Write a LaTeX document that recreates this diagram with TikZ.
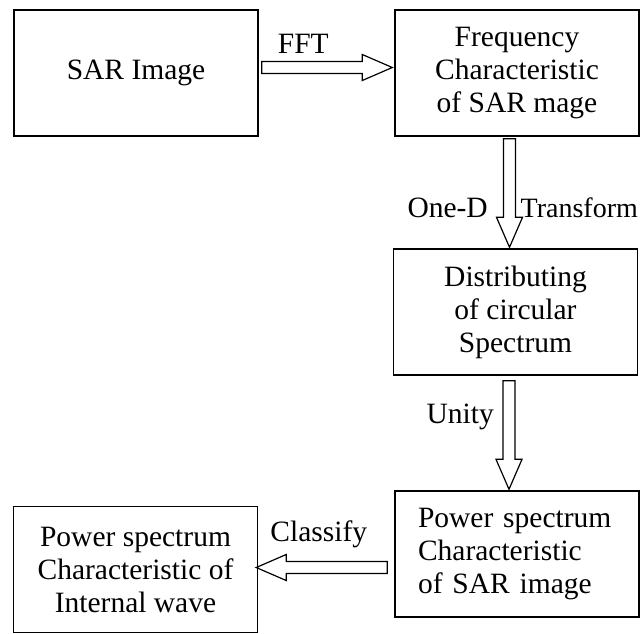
\documentclass[tikz,border=0pt]{standalone}
\usepackage{fontspec}
\setmainfont{Liberation Serif}
\usetikzlibrary{calc}

\tikzset{
  procbox/.style={draw=black, line width=1.4pt, minimum width=244pt, minimum height=126pt,
    align=center, font=\fontsize{29.5}{33}\selectfont},
  flowlbl/.style={inner sep=0pt, font=\fontsize{29.5}{33}\selectfont},
  arrowline/.style={draw=black, line width=1.2pt, line join=miter},
}

% hollow block arrow from #1 to the tip #2
\newcommand{\hollowarrow}[2]{%
  \draw[arrowline] let \p1=($(#2)-(#1)$), \n1={veclen(\x1,\y1)}, \n2={atan2(\y1,\x1)} in
    [shift={(#1)}, rotate=\n2]
    (0pt,-6pt) -- ({\n1-30pt},-6pt) -- ({\n1-30pt},-13pt) -- (\n1,0pt)
    -- ({\n1-30pt},13pt) -- ({\n1-30pt},6pt) -- (0pt,6pt) -- cycle;
}

\begin{document}
\begin{tikzpicture}[x=1pt, y=1pt]
    \useasboundingbox (0,0) rectangle (643,-633);

    \node[procbox] (sar) at (136, -73) {SAR Image};
    \node[procbox] (freq) at (517, -73) {Frequency\\Characteristic\\of SAR mage};
    \node[procbox] (dist) at (515.5, -312) {Distributing\\of circular\\Spectrum};
    \node[procbox, align=left, text width=198pt, inner xsep=23pt] (psar) at (517, -554) {Power spectrum\\Characteristic\\of SAR image};
    \node[procbox] (pwave) at (135.5, -569.5) {Power spectrum\\Characteristic of\\Internal wave};

    % arrow ends
    \coordinate (fftS) at ([xshift=3pt, yshift=5.5pt]sar.east);
    \coordinate (fftT) at ([xshift=-2pt, yshift=5.5pt]freq.west);
    \coordinate (odS) at ([xshift=-7.5pt, yshift=-2pt]freq.south);
    \coordinate (odT) at ([xshift=-6pt, yshift=1pt]dist.north);
    \coordinate (uniS) at ([xshift=-6.5pt, yshift=-5pt]dist.south);
    \coordinate (uniT) at ([xshift=-8pt, yshift=1pt]psar.north);
    \coordinate (clsS) at ([xshift=-7pt, yshift=-13.5pt]psar.west);
    \coordinate (clsT) at ([xshift=-2pt, yshift=2pt]pwave.east);

    \hollowarrow{fftS}{fftT}
    \hollowarrow{odS}{odT}
    \hollowarrow{uniS}{uniT}
    \hollowarrow{clsS}{clsT}

    \node[flowlbl, anchor=base west] (fftlbl) at ([xshift=16pt, yshift=14.5pt]fftS) {FFT};
    \node[flowlbl, anchor=base east] (onedlbl) at ([xshift=-21.5pt, yshift=-79pt]odS) {One-D};
    \node[flowlbl, anchor=base west, font=\fontsize{28}{33}\selectfont] (translbl) at ([xshift=11pt, yshift=-79pt]odS) {Transform};
    \node[flowlbl, anchor=base east] (unilbl) at ([xshift=-15pt, yshift=-43pt]uniS) {Unity};
    \node[flowlbl, anchor=base west] (clslbl) at ([xshift=14pt, yshift=26.5pt]clsT) {Classify};
\end{tikzpicture}
\end{document}
